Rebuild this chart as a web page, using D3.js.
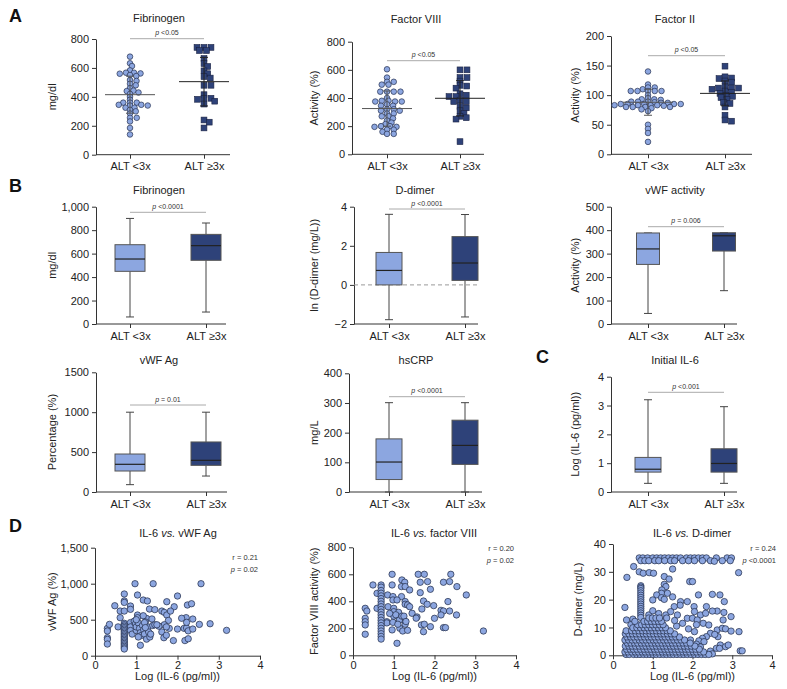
<!DOCTYPE html>
<html><head><meta charset="utf-8">
<script src="https://cdn.jsdelivr.net/npm/d3@7"></script>
<style>body{margin:0;background:#fff}</style>
</head><body><svg id="c" width="787" height="689"></svg>
<script>
const groups = ["ALT <3x", "ALT \u22653x"];

// ---- A: dot plots (values) ----
const fibA_low = [678,632,613,583,567,560,551,544,567,562,516,510,480,490,460,440,443,420,430,400,380,360,360,360,345,345,340,340,325,325,310,300,285,255,255,230,185,140];
const fibA_high = [742,742,742,720,720,665,630,610,580,560,540,530,480,480,415,390,383,390,370,350,240,225,185];
const fibA_stats = [[415,128],[505,168]];
const f8_low = [604,545,515,515,495,495,445,445,445,445,400,380,380,375,375,375,355,345,345,320,320,310,310,290,290,270,270,255,240,225,215,200,200,195,195,175,175,160,145,145];
const f8_high = [600,600,545,545,520,490,485,470,430,420,410,410,385,375,375,340,330,310,290,270,260,250,90];
const f8_stats = [[325,125],[398,125]];
const f2_low = [140,118,113,113,110,107,107,107,107,107,100,95,93,93,92,89,89,89,88,87,87,85,85,85,85,85,83,83,83,83,82,80,80,80,80,78,76,73,50,43,36,21];
const f2_high = [149,131,129,128,124,122,114,112,112,112,110,107,105,103,100,98,96,93,88,86,80,66,58,56];
const f2_stats = [[88,22],[103,21]];

// ---- B / C: box plots [min, q1, median, q3, max] ----
const fibB = [[60,449,554,676,900],[102,543,668,764,861]];
const ddimerB = [[-1.78,0,0.74,1.66,3.61],[-1.64,0.23,1.12,2.47,3.6]];
const vwfActB = [[45,254,320,388,388],[142,311,376,389,389]];
const vwfAgB = [[92,263,347,476,1000],[200,334,397,627,1000]];
const hscrpB = [[0,42,101,179,301],[0,93,157,242,301]];
const il6B = [[0.3,0.69,0.79,1.2,3.2],[0.3,0.69,0.99,1.5,2.96]];

// ---- D: scatter [log IL-6, value] ----
const il6_vwf = [[0.97,1000],[1.41,1000],[2.57,1000],[0.71,857],[1.03,843],[2.0,829],[0.71,760],[0.71,740],[1.17,773],[1.27,760],[1.74,750],
[0.48,694],[0.86,690],[0.86,644],[1.32,648],[1.92,680],[2.24,704],[2.34,722],[1.62,620],[1.68,602],[1.74,565],[0.61,620],[1.83,620],
[0.61,528],[1.03,565],[1.03,528],[1.25,518],[1.17,555],[2.21,528],[2.37,509],[1.78,490],[0.3,380],[0.3,343],[0.3,250],[0.3,227],[0.3,162],[0.35,435],[0.56,400],
[0.71,450],[0.71,430],[0.71,410],[0.71,390],[0.71,370],[0.71,350],[0.71,330],[0.71,310],[0.71,290],[0.71,270],[0.71,250],[0.71,230],[0.71,210],[0.71,190],[0.71,170],[0.71,150],[0.71,130],[0.71,110],[0.71,93],[0.71,620],
[0.86,460],[0.86,400],[0.86,350],[0.9,300],[0.95,480],[0.98,440],[1.0,350],[1.0,400],[1.05,455],[1.08,380],[1.1,320],[1.12,280],[1.15,420],[1.18,360],[1.2,300],[1.22,470],[1.25,230],[1.28,400],[1.3,330],[1.33,260],[1.35,300],[1.4,420],[1.45,430],[1.1,145],[1.2,460],[1.0,500],[1.05,260],[1.22,390],
[1.62,330],[1.67,250],[1.73,285],[1.8,380],[1.68,430],[1.73,400],[1.55,410],[1.9,210],[2.0,370],[2.16,380],[2.22,385],[2.26,345],[2.37,370],[2.18,210],[2.26,235],[2.53,435],[2.79,444],[3.19,352],[2.22,463],[2.1,520],[1.45,640],[1.38,510],[1.5,430]];

const il6_f8 = [[0.96,600],[1.6,600],[1.75,600],[2.4,600],[1.2,558],[1.27,541],[1.65,541],[1.83,546],[2.22,541],[2.37,546],[0.49,521],[0.96,521],[1.19,509],[1.28,509],[1.39,484],[1.9,489],[2.55,509],[1.65,464],[0.59,459],[0.85,447],[0.98,435],[0.98,410],[1.19,435],[2.78,447],[1.08,410],[1.28,398],[1.28,378],[1.73,402],[1.82,378],[1.34,373],[1.39,360],[1.98,368],[2.33,398],[0.86,360],[0.59,348],[1.69,343],[0.3,348],[0.3,274],[0.34,328],[1.0,348],[1.0,323],[1.12,318],[1.45,311],[2.16,333],[2.22,328],[2.37,328],[2.54,299],[1.15,279],[1.57,284],[2.16,299],[2.0,274],[0.3,249],[0.83,249],[0.83,240],[1.28,249],[1.28,230],[0.98,244],[1.14,262],[1.68,225],[1.75,230],[1.9,212],[2.22,205],[2.27,205],[0.3,225],[0.3,156],[0.96,188],[1.15,200],[1.22,180],[1.34,185],[1.73,175],[1.08,89],[3.2,180],[1.0,290],[1.05,300],[1.2,290],[1.25,290],[1.3,250],[1.55,275],[0.9,310],[1.1,230],
[0.69,521],[0.69,505],[0.69,480],[0.69,460],[0.69,440],[0.69,420],[0.69,400],[0.69,380],[0.69,360],[0.69,340],[0.69,320],[0.69,300],[0.69,280],[0.69,260],[0.69,240],[0.69,220],[0.69,200],[0.69,180],[0.69,160],[0.69,140],[0.69,120]];

const il6_dd_sparse = [[0.66,35],[0.75,35],[0.87,35],[1.0,35],[1.1,35],[1.2,35],[1.3,35],[1.4,35],[1.5,35],[1.6,35],[1.7,35],[1.85,35],[1.95,35],[2.05,35],[2.15,35],[2.25,35],[2.35,35],[2.6,35],[2.87,35],[2.98,35],
[0.7,34],[0.8,34],[0.9,34],[1.05,34],[1.15,34],[1.3,34],[1.45,34],[1.55,34],[1.75,34],[1.9,34],[2.05,34],[2.25,34],[2.45,34],[2.75,34],[2.95,34],[2.55,33.8],
[0.52,31.9],[0.66,30],[0.76,29.5],[0.91,29.7],[1.02,29.5],[0.35,28],[1.29,28.3],[1.41,27.4],[1.5,31],[3.16,29.7],
[1.93,26.5],[2.0,26.5],[1.29,25.5],[1.33,24.7],[1.23,23.5],[1.22,22.3],[1.37,22.3],[1.1,21.7],[1.22,20.7],[1.29,20.1],[1.0,19.9],[1.7,19.3],[1.87,19.3],[2.15,21.7],[2.5,21.9],[2.69,21.7],[2.8,19.3],[1.5,21],[1.69,18],[1.54,17.5],[2.35,17.5],[0.3,17.2],[2.62,15.9],[2.5,15.9],[2.79,15.4],[2.04,17.5],[2.05,15.7],[2.2,14.5],[2.33,15.1],[2.97,13.9],[1.33,14.5],[1.87,13.3],[2.0,13.3],[2.12,12.7],[1.45,15.7],[1.62,14.5],[0.34,12.7],[2.27,11.5],[2.41,10.9],[2.77,12.7],[2.62,9.1],[2.75,9.7],[2.83,9.5],[2.97,8.7],[3.17,8.5],[2.64,6.7],[2.45,7.9],[2.56,7.5],[2.35,6.7],[2.25,6.1],[2.16,5.2],[2.29,4.9],[2.7,3.7],[2.83,3.1],[2.9,3.7],[2.6,2.5],[2.68,2.5],[3.2,1.6],[3.25,1.6],[1.75,11.5],[1.6,10.5],[1.9,9.5],[2.05,8.5],[2.1,11],[1.55,12.5],[1.95,5.5],[2.1,4],[2.2,3],[2.45,1.5],[2.5,0.5],[0.5,13],[0.45,11],[0.9,14.5],[1.15,15],[1.0,16],
[0.7,25],[0.7,24.5],[0.7,24],[0.7,23.2],[0.7,22.4],[0.7,21.6],[0.7,20.8],[0.7,20],[0.7,19.2],[0.7,18.4],[0.7,17.6],[0.7,16.8],[0.7,16],[0.7,15.2],[0.7,14.4],[0.7,13.6]];
// dense cloud, read as rows: [D-dimer, [log IL-6 values]]
const il6_dd_rows = [
 [0.3,[0.33,0.41,0.52,0.6,0.68,0.77,0.85,0.93,1.01,1.09,1.18,1.27,1.35,1.44,1.52,1.61,1.7,1.78,1.87,1.96,2.05,2.14,2.23,2.32,2.41]],
 [1.2,[0.3,0.38,0.47,0.56,0.64,0.73,0.81,0.9,0.98,1.07,1.15,1.24,1.33,1.41,1.5,1.58,1.67,1.76,1.84,1.93,2.02,2.1,2.2,2.28]],
 [2.2,[0.34,0.43,0.51,0.6,0.69,0.78,0.87,0.95,1.04,1.12,1.21,1.3,1.38,1.47,1.56,1.64,1.73,1.82,1.9,1.99,2.08,2.17]],
 [3.3,[0.31,0.4,0.48,0.57,0.66,0.75,0.83,0.92,1.0,1.09,1.18,1.26,1.35,1.44,1.52,1.61,1.7,1.79,1.88,1.97,2.06]],
 [4.4,[0.36,0.45,0.54,0.62,0.71,0.8,0.88,0.97,1.06,1.14,1.23,1.32,1.4,1.49,1.58,1.67,1.76,1.85,1.94]],
 [5.5,[0.3,0.39,0.48,0.57,0.66,0.74,0.83,0.92,1.01,1.09,1.18,1.27,1.36,1.45,1.53,1.62,1.71,1.8]],
 [6.6,[0.35,0.44,0.52,0.61,0.7,0.79,0.88,0.96,1.05,1.14,1.23,1.31,1.4,1.49,1.58,1.67]],
 [7.7,[0.31,0.4,0.49,0.58,0.67,0.76,0.84,0.93,1.02,1.11,1.2,1.28,1.37,1.46,1.55]],
 [8.8,[0.33,0.47,0.56,0.65,0.74,0.83,0.92,1.0,1.09,1.18,1.27,1.36,1.44]],
 [9.9,[0.5,0.6,0.69,0.78,0.87,0.96,1.05,1.14,1.23,1.32]],
 [11,[0.62,0.72,0.81,0.9,0.99,1.08,1.17,1.26]],
 [12.2,[0.55,0.78,0.87,0.96,1.05,1.14,1.22]],
 [13.4,[0.9,0.99,1.08,1.17,1.35]]
];

// ---------------- drawing ----------------
const FONT = "Liberation Sans, Arial, Helvetica, sans-serif";
const LIGHT = "#8CA6E0", DARK = "#2E4279", AX = "#333";
const svg = d3.select("#c").attr("font-family", FONT);

function styleAxis(sel){
  sel.attr("font-family", FONT).attr("font-size", 11);
  sel.selectAll("path,line").attr("stroke", AX).attr("stroke-width", 1);
  sel.selectAll("text").attr("fill", "#222");
}
function richText(g, x, y, parts, size, anchor, fill){
  const f = fill || "#222";
  const t = g.append("text").attr("x", x).attr("y", y).attr("text-anchor", anchor || "middle")
    .attr("font-size", size).attr("fill", f);
  parts.forEach(p => t.append("tspan").attr("fill", f).attr("font-style", p[1] ? "italic" : null).text(p[0]));
  return t;
}
function yTitle(g, x, yc, label){
  g.append("text").attr("transform", `translate(${x},${yc}) rotate(-90)`).attr("text-anchor", "middle")
    .attr("font-size", 11).attr("fill", "#222").text(label);
}
function panelLetter(x, y, s){
  svg.append("text").attr("x", x).attr("y", y).attr("font-size", 18).attr("font-weight", "bold").attr("fill", "#111").text(s);
}

function catFrame(c){
  const g = svg.append("g");
  const y = d3.scaleLinear().domain(c.domain).range([c.yB, c.yT]);
  const x = d3.scalePoint().domain(groups).range(c.cats);
  const ya = g.append("g").attr("transform", `translate(${c.ax},0)`)
    .call(d3.axisLeft(y).tickValues(c.ticks).tickFormat(c.fmt || d3.format("")).tickSize(4).tickSizeOuter(0).tickPadding(3));
  styleAxis(ya);
  const xa = g.append("g").attr("transform", `translate(0,${c.yB})`)
    .call(d3.axisBottom(x).tickSize(4).tickSizeOuter(0).tickPadding(4));
  xa.select(".domain").remove();
  styleAxis(xa);
  g.append("line").attr("x1", c.ax).attr("x2", c.xEnd).attr("y1", c.yB).attr("y2", c.yB).attr("stroke", AX);
  richText(g, c.tx, c.ty, [[c.title]], 11);
  yTitle(g, c.ylx, (c.yB + c.yT) / 2, c.ylabel);
  g.append("line").attr("x1", c.cats[0]).attr("x2", c.cats[1]).attr("y1", c.pb).attr("y2", c.pb).attr("stroke", "#aaa");
  richText(g, (c.cats[0] + c.cats[1]) / 2, c.pb - 3.5, [["p", true], [" " + c.p]], 7, "middle", "#333");
  return {g, x, y};
}

// dodge layout: points may overlap vertically (k squeezes vertical distance), like a dot-plot scatter
function swarm(vals, y, dmin, k){
  const pts = vals.map(v => ({v, y: y(v)})).sort((a, b) => a.y - b.y);
  const placed = [];
  pts.forEach(p => {
    let off = null;
    for (let i = 0; i < 400 && off === null; i++) {
      const cands = i === 0 ? [0] : [i * 0.25, -i * 0.25];
      for (const o of cands) {
        if (placed.every(q => (q.dx - o) ** 2 + (k * (q.y - p.y)) ** 2 >= dmin * dmin)) { off = o; break; }
      }
    }
    p.dx = off; placed.push(p);
  });
  return placed;
}

function dotPanel(c, low, high, stats){
  const {g, x, y} = catFrame(c);
  const r = 2.8, s = 5.8;
  const s1 = swarm(low, y, 6.6, 2.3);
  g.append("g").selectAll("circle").data(s1).join("circle")
    .attr("cx", d => x(groups[0]) + d.dx).attr("cy", d => d.y).attr("r", r)
    .attr("fill", LIGHT).attr("stroke", "#27314f").attr("stroke-width", 0.7);
  const s2 = swarm(high, y, 6.8, 2.0);
  g.append("g").selectAll("rect").data(s2).join("rect")
    .attr("x", d => x(groups[1]) + d.dx - s / 2).attr("y", d => d.y - s / 2).attr("width", s).attr("height", s)
    .attr("fill", DARK).attr("stroke", "#1a2242").attr("stroke-width", 0.6);
  stats.forEach((st, i) => {
    const cx = x(groups[i]), m = st[0], sd = st[1], col = i ? "#222" : "#555";
    g.append("line").attr("x1", cx - 25).attr("x2", cx + 25).attr("y1", y(m)).attr("y2", y(m)).attr("stroke", col).attr("stroke-width", 1);
    g.append("line").attr("x1", cx).attr("x2", cx).attr("y1", y(m - sd)).attr("y2", y(m + sd)).attr("stroke", col).attr("stroke-width", 1);
    [m - sd, m + sd].forEach(v => g.append("line").attr("x1", cx - 4).attr("x2", cx + 4).attr("y1", y(v)).attr("y2", y(v)).attr("stroke", col));
  });
}

function boxPanel(c, boxes){
  const {g, x, y} = catFrame(c);
  if (c.zeroLine) {
    g.append("line").attr("x1", c.ax).attr("x2", c.xEnd).attr("y1", y(0)).attr("y2", y(0))
      .attr("stroke", "#999").attr("stroke-dasharray", "4,3");
  }
  boxes.forEach((b, i) => {
    const cx = x(groups[i]), w = c.boxW;
    const [mn, q1, md, q3, mx] = b;
    g.append("line").attr("x1", cx).attr("x2", cx).attr("y1", y(mn)).attr("y2", y(q1)).attr("stroke", "#444");
    g.append("line").attr("x1", cx).attr("x2", cx).attr("y1", y(q3)).attr("y2", y(mx)).attr("stroke", "#444");
    [mn, mx].forEach(v => g.append("line").attr("x1", cx - 4).attr("x2", cx + 4).attr("y1", y(v)).attr("y2", y(v)).attr("stroke", "#444"));
    g.append("rect").attr("x", cx - w / 2).attr("y", y(q3)).attr("width", w).attr("height", y(q1) - y(q3))
      .attr("fill", i ? DARK : LIGHT).attr("stroke", "#555").attr("stroke-width", 1);
    g.append("line").attr("x1", cx - w / 2).attr("x2", cx + w / 2).attr("y1", y(md)).attr("y2", y(md))
      .attr("stroke", "#222").attr("stroke-width", 1.2);
  });
}

function scatPanel(c, pts){
  const g = svg.append("g");
  const x = d3.scaleLinear().domain([0, 4]).range([c.ax, c.xR]);
  const y = d3.scaleLinear().domain(c.domain).range([c.yB, c.yT]);
  const ya = g.append("g").attr("transform", `translate(${c.ax},0)`)
    .call(d3.axisLeft(y).tickValues(c.ticks).tickFormat(c.fmt || d3.format("")).tickSize(4).tickSizeOuter(0).tickPadding(3));
  styleAxis(ya);
  const xa = g.append("g").attr("transform", `translate(0,${c.yB})`)
    .call(d3.axisBottom(x).tickValues([0, 1, 2, 3, 4]).tickFormat(d3.format("d")).tickSize(4).tickSizeOuter(0).tickPadding(2));
  styleAxis(xa);
  g.append("g").selectAll("circle").data(pts).join("circle")
    .attr("cx", d => x(d[0])).attr("cy", d => y(d[1])).attr("r", 3.2)
    .attr("fill", LIGHT).attr("stroke", "#202a45").attr("stroke-width", 0.7);
  richText(g, c.tx, c.ty, c.title, 11);
  yTitle(g, c.ylx, (c.yB + c.yT) / 2, c.ylabel);
  richText(g, (c.ax + c.xR) / 2, 680, [["Log (IL-6 (pg/ml))"]], 11);
  richText(g, c.rx, c.ry, [["r = " + c.r]], 7.5, "end", "#333");
  richText(g, c.rx, c.ry + 12, [["p", true], [" " + c.p]], 7.5, "end", "#333");
}

// ---------- Row A ----------
panelLetter(9, 22, "A");
dotPanel({ax:96, xEnd:230, yB:154.7, yT:39, domain:[0,800], ticks:[0,200,400,600,800], cats:[130,204],
  title:"Fibrinogen", tx:159, ty:22, ylabel:"mg/dl", ylx:56, pb:38.7, p:"<0.05"}, fibA_low, fibA_high, fibA_stats);
dotPanel({ax:352, xEnd:484, yB:154.3, yT:41.7, domain:[0,800], ticks:[0,200,400,600,800], cats:[387,460],
  title:"Factor VIII", tx:416, ty:23, ylabel:"Activity (%)", ylx:318, pb:60.7, p:"<0.05"}, f8_low, f8_high, f8_stats);
dotPanel({ax:611, xEnd:752, yB:154.3, yT:36, domain:[0,200], ticks:[0,50,100,150,200], cats:[648,725],
  title:"Factor II", tx:675, ty:23, ylabel:"Activity (%)", ylx:579, pb:55.7, p:"<0.05"}, f2_low, f2_high, f2_stats);

// ---------- Row B ----------
panelLetter(9, 192, "B");
boxPanel({ax:96, xEnd:226, yB:324, yT:206.7, domain:[0,1000], ticks:[0,200,400,600,800,1000], fmt:d3.format(","), cats:[130,206],
  title:"Fibrinogen", tx:159, ty:194, ylabel:"mg/dl", ylx:56, pb:212.3, p:"<0.0001", boxW:30}, fibB);
boxPanel({ax:354, xEnd:478, yB:324, yT:206.7, domain:[-2,4], ticks:[-2,0,2,4], cats:[389,465],
  title:"D-dimer", tx:415, ty:194, ylabel:"ln (D-dimer (mg/L))", ylx:318, pb:209, p:"<0.0001", boxW:26, zeroLine:true}, ddimerB);
boxPanel({ax:611, xEnd:737, yB:324, yT:206.7, domain:[0,500], ticks:[0,100,200,300,400,500], cats:[648,724],
  title:"vWF activity", tx:675, ty:194, ylabel:"Activity (%)", ylx:579, pb:226.7, p:"= 0.006", boxW:23}, vwfActB);
boxPanel({ax:96, xEnd:227, yB:492, yT:372.3, domain:[0,1500], ticks:[0,500,1000,1500], cats:[130,206],
  title:"vWF Ag", tx:159, ty:364, ylabel:"Percentage (%)", ylx:56, pb:405, p:"= 0.01", boxW:30}, vwfAgB);
boxPanel({ax:349, xEnd:482, yB:492, yT:373.3, domain:[0,400], ticks:[0,100,200,300,400], cats:[389,465],
  title:"hsCRP", tx:416, ty:364, ylabel:"mg/L", ylx:318, pb:396.7, p:"<0.0001", boxW:26}, hscrpB);

// ---------- C ----------
panelLetter(536, 363, "C");
boxPanel({ax:611, xEnd:737, yB:492, yT:376.7, domain:[0,4], ticks:[0,1,2,3,4], cats:[648,724],
  title:"Initial IL-6", tx:675, ty:364, ylabel:"Log (IL-6 (pg/ml))", ylx:579, pb:392.3, p:"<0.001", boxW:26}, il6B);

// ---------- D ----------
panelLetter(9, 532, "D");
scatPanel({ax:95, xR:260, yB:655.7, yT:547.7, domain:[0,1500], ticks:[0,500,1000,1500], fmt:d3.format(","),
  title:[["IL-6 "],["vs.",true],[" vWF Ag"]], tx:178, ty:537, ylabel:"vWF Ag (%)", ylx:56, rx:258, ry:560, r:"0.21", p:"= 0.02"}, il6_vwf);
scatPanel({ax:353, xR:516, yB:655.3, yT:547.3, domain:[0,800], ticks:[0,200,400,600,800],
  title:[["IL-6 "],["vs.",true],[" factor VIII"]], tx:434, ty:537, ylabel:"Factor VIII activity (%)", ylx:318, rx:514, ry:551, r:"0.20", p:"= 0.02"}, il6_f8);
const il6_dd = il6_dd_sparse.concat(...il6_dd_rows.map(r => r[1].map(v => [v, r[0]])));
scatPanel({ax:613, xR:772, yB:655.3, yT:544, domain:[0,40], ticks:[0,10,20,30,40],
  title:[["IL-6 "],["vs.",true],[" D-dimer"]], tx:692, ty:537, ylabel:"D-dimer (mg/L)", ylx:582, rx:776, ry:551, r:"0.24", p:"<0.0001"}, il6_dd);
</script></body></html>
